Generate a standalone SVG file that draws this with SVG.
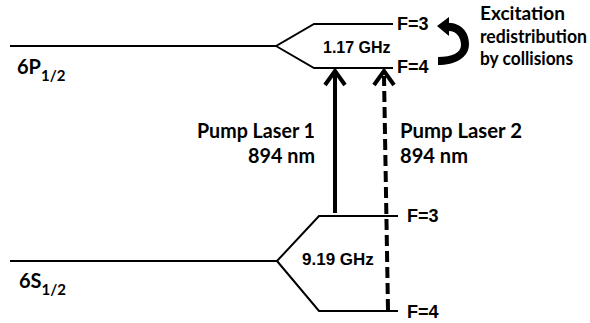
<svg xmlns="http://www.w3.org/2000/svg" width="590" height="323" viewBox="0 0 590 323">
<style>
.lvl{fill:none;stroke:#000;stroke-width:2;stroke-linejoin:miter}
.ar{fill:none;stroke:#000;stroke-width:4}
.hd{fill:none;stroke:#000;stroke-width:4;stroke-linejoin:miter;stroke-linecap:butt}
.a{font-family:"Liberation Sans",Arial,sans-serif;font-weight:bold;fill:#000}
.c{font-family:Lato,"Open Sans",sans-serif;font-weight:bold;fill:#000}
</style>
<rect width="590" height="323" fill="#fff"/>
<g id="state-6P">
<path class="lvl" d="M10,46 H276 L314,24 H393 M276,46 L314,68 H393"/>
<text class="c" x="17" y="74" font-size="20">6P<tspan font-size="15" dy="7">1/2</tspan></text>
<text class="a" x="397" y="30" font-size="18">F=3</text>
<text class="a" x="397" y="73" font-size="18">F=4</text>
<text class="a" x="323" y="53" font-size="16">1.17 GHz</text>
</g>
<g id="state-6S">
<path class="lvl" d="M10,261 H277 L319,216 H398 M277,261 L319,311 H398"/>
<text class="c" x="19" y="288" font-size="20">6S<tspan font-size="15" dy="7">1/2</tspan></text>
<text class="a" x="407" y="222" font-size="18">F=3</text>
<text class="a" x="407" y="318" font-size="18">F=4</text>
<text class="a" x="302" y="265" font-size="17">9.19 GHz</text>
</g>
<g id="redistribution">
<path fill="#000" d="M438,65 C455,65 469,58 469,44 C469,31 460,23 449,23 L449,17 L437,26 L449,36 L449,31 C456,31 461,37 461,45 C461,53 452,57 438,57 Z"/>
<text class="c" font-size="18"><tspan x="480" y="20" textLength="85" lengthAdjust="spacingAndGlyphs">Excitation</tspan><tspan x="480" y="43" textLength="107" lengthAdjust="spacingAndGlyphs">redistribution</tspan><tspan x="480" y="65" textLength="93" lengthAdjust="spacingAndGlyphs">by collisions</tspan></text>
</g>
<g id="connectors">
<line class="ar" x1="335" y1="213" x2="335" y2="72"/>
<polyline class="hd" points="325,85 335,71 345,85"/>
<line class="ar" x1="388" y1="310" x2="384" y2="76" stroke-dasharray="11,5"/>
<polyline class="hd" points="374,85 384,71 394,85"/>
</g>
<g id="labels">
<text class="c" x="197" y="138" font-size="20" textLength="118" lengthAdjust="spacingAndGlyphs">Pump Laser 1</text>
<text class="c" x="248" y="163" font-size="20" textLength="67" lengthAdjust="spacingAndGlyphs">894 nm</text>
<text class="c" x="400" y="138" font-size="20" textLength="122" lengthAdjust="spacingAndGlyphs">Pump Laser 2</text>
<text class="c" x="400" y="163" font-size="20" textLength="68" lengthAdjust="spacingAndGlyphs">894 nm</text>
</g>
</svg>
